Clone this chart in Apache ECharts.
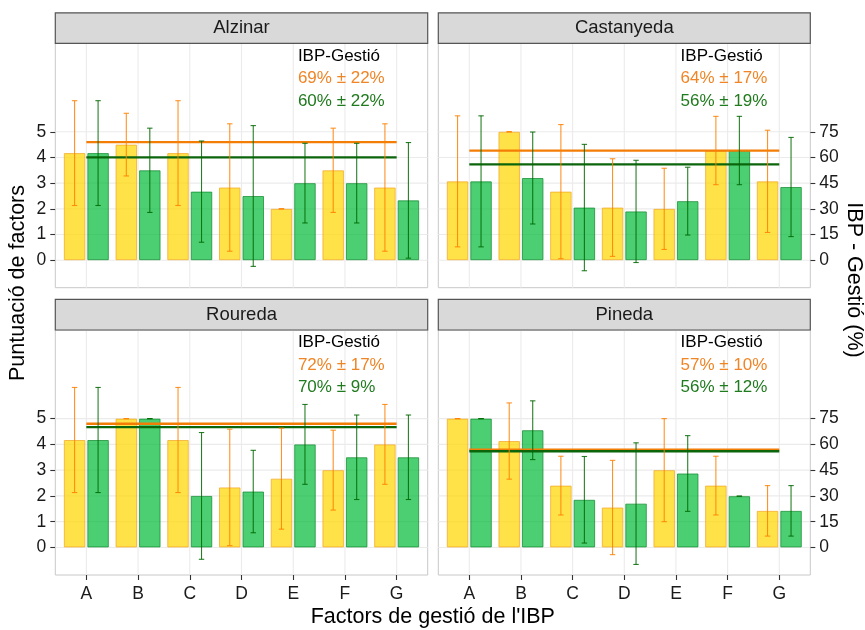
<!DOCTYPE html>
<html>
<head>
<meta charset="utf-8">
<script src="https://cdn.jsdelivr.net/npm/echarts@6/dist/echarts.min.js"></script>
<style>html,body{margin:0;padding:0;background:#fff}#c{width:865px;height:630px}</style>
</head>
<body>
<div id="c"></div>
<script>
// ---------- DATA ----------
const categories = ['A', 'B', 'C', 'D', 'E', 'F', 'G'];
const sites = ['Alzinar', 'Castanyeda', 'Roureda', 'Pineda'];

// IBP score (yellow) and Gestió score (green), mean and sd per factor
const alzinarIBP     = [4.17, 4.5, 4.17, 2.83, 2.0, 3.5, 2.83];
const alzinarIBPsd   = [2.04, 1.22, 2.04, 2.48, 0, 1.64, 2.48];
const alzinarGest    = [4.17, 3.5, 2.67, 2.5, 3.0, 3.0, 2.33];
const alzinarGestSd  = [2.04, 1.64, 1.97, 2.74, 1.55, 1.55, 2.25];

const castIBP        = [3.07, 5.0, 2.67, 2.05, 2.0, 4.27, 3.07];
const castIBPsd      = [2.55, 0, 2.61, 1.9, 1.58, 1.33, 1.99];
const castGest       = [3.07, 3.2, 2.05, 1.9, 2.3, 4.27, 2.85];
const castGestSd     = [2.55, 1.79, 2.46, 1.99, 1.32, 1.33, 1.93];

const rouIBP         = [4.17, 5.0, 4.17, 2.33, 2.67, 3.0, 4.0];
const rouIBPsd       = [2.04, 0, 2.04, 2.26, 1.96, 1.55, 1.55];
const rouGest        = [4.17, 5.0, 2.0, 2.17, 4.0, 3.5, 3.5];
const rouGestSd      = [2.04, 0, 2.46, 1.6, 1.55, 1.64, 1.64];

const pinIBP         = [5.0, 4.13, 2.4, 1.55, 3.0, 2.4, 1.42];
const pinIBPsd       = [0, 1.48, 1.14, 1.83, 2.0, 1.14, 0.98];
const pinGest        = [5.0, 4.55, 1.85, 1.7, 2.87, 1.99, 1.42];
const pinGestSd      = [0, 1.14, 1.68, 2.36, 1.47, 0, 0.98];

// overall IBP-Gestió percentages
const ibpPct   = [69, 64, 72, 57];
const ibpPctSd = [22, 17, 17, 10];
const gestPct  = [60, 56, 70, 56];
const gestPctSd= [22, 19, 9, 12];

const leftTicks  = [0, 1, 2, 3, 4, 5];   // left axis (score)
const pctFactor  = 15;                   // right axis = score * 15 (%)

// ---------- BUILD ----------
const ibpMeans = [alzinarIBP, castIBP, rouIBP, pinIBP];
const ibpSds   = [alzinarIBPsd, castIBPsd, rouIBPsd, pinIBPsd];
const gesMeans = [alzinarGest, castGest, rouGest, pinGest];
const gesSds   = [alzinarGestSd, castGestSd, rouGestSd, pinGestSd];

const FONT = 'Liberation Sans, Arial, sans-serif';
const panels = [
  {left: 55.3, top: 43.4, width: 372.4, height: 244.3},
  {left: 438.3, top: 43.4, width: 372.0, height: 244.3},
  {left: 55.3, top: 330.0, width: 372.4, height: 245.0},
  {left: 438.3, top: 330.0, width: 372.0, height: 245.0}
];
const BAR_W = 21.5, BAR_GAP_PX = 2;
const OFF = (BAR_W + BAR_GAP_PX) / 2;

const yellowFill = 'rgba(255,215,0,0.72)';
const yellowBorder = 'rgba(243,168,40,0.75)';
const greenFill = 'rgba(0,186,56,0.70)';
const greenBorder = 'rgba(20,140,50,0.75)';
const orangeErr = 'rgba(255,128,0,0.85)';
const greenErr = 'rgba(0,105,0,0.85)';
const orangeLine = '#F47D06';
const greenLine = '#0B650B';
const orangeText = '#EF8526';
const greenText = '#207A1E';

const grids = [], xAxes = [], yAxes = [], series = [];

function errRender(offset, color) {
  return function (params, api) {
    const x = api.value(0), m = api.value(1), s = api.value(2);
    const t = api.coord([x, m + s]);
    const b = api.coord([x, m - s]);
    const cx = t[0] + offset;
    const st = {stroke: color, lineWidth: 1.1};
    return {type: 'group', children: [
      {type: 'line', shape: {x1: cx, y1: t[1], x2: cx, y2: b[1]}, style: st},
      {type: 'line', shape: {x1: cx - 2.7, y1: t[1], x2: cx + 2.7, y2: t[1]}, style: st},
      {type: 'line', shape: {x1: cx - 2.7, y1: b[1], x2: cx + 2.7, y2: b[1]}, style: st}
    ]};
  };
}

panels.forEach((p, i) => {
  const isBottom = i >= 2, isRight = i % 2 === 1;
  grids.push(Object.assign({show: true, backgroundColor: '#fff', borderColor: '#C8C8C8', borderWidth: 1, containLabel: false}, p));
  xAxes.push({
    type: 'value', gridIndex: i, min: 0.4, max: 7.6, position: 'bottom',
    axisLine: {show: false, onZero: false}, splitLine: {show: false},
    axisTick: {show: isBottom, customValues: [1, 2, 3, 4, 5, 6, 7], length: 5, lineStyle: {color: '#333', width: 1.1}},
    axisLabel: {show: isBottom, customValues: [1, 2, 3, 4, 5, 6, 7], margin: 10,
      formatter: v => categories[Math.round(v) - 1] || '', color: '#1a1a1a', fontSize: 17.5, fontFamily: FONT}
  });
  yAxes.push({
    type: 'value', gridIndex: i, min: -1.07, max: 8.44, position: isRight ? 'right' : 'left',
    axisLine: {show: false, onZero: false}, splitLine: {show: false},
    axisTick: {show: true, customValues: leftTicks, length: 5, lineStyle: {color: '#333', width: 1.1}},
    axisLabel: {show: true, customValues: leftTicks, margin: 9,
      formatter: v => isRight ? String(Math.round(v * pctFactor)) : String(v),
      color: '#1a1a1a', fontSize: 17.5, fontFamily: FONT}
  });

  // grid lines
  series.push({
    type: 'custom', xAxisIndex: i, yAxisIndex: i, z: 1, silent: true,
    data: [[0]],
    renderItem: function (params, api) {
      const cs = params.coordSys;
      const ch = [];
      categories.forEach((c, k) => {
        const px = api.coord([k + 1, 0])[0];
        ch.push({type: 'line', shape: {x1: px, y1: cs.y, x2: px, y2: cs.y + cs.height}, style: {stroke: '#EBEBEB', lineWidth: 1.1}});
      });
      leftTicks.forEach(v => {
        const py = api.coord([1, v])[1];
        ch.push({type: 'line', shape: {x1: cs.x, y1: py, x2: cs.x + cs.width, y2: py}, style: {stroke: '#EBEBEB', lineWidth: 1.1}});
      });
      return {type: 'group', children: ch};
    }
  });

  // bars
  series.push({
    type: 'bar', name: 'IBP', xAxisIndex: i, yAxisIndex: i, z: 2,
    barWidth: BAR_W, barGap: (BAR_GAP_PX / BAR_W * 100) + '%',
    data: ibpMeans[i].map((v, k) => [k + 1, v]),
    itemStyle: {color: yellowFill, borderColor: yellowBorder, borderWidth: 1}
  });
  series.push({
    type: 'bar', name: 'Gestió', xAxisIndex: i, yAxisIndex: i, z: 2,
    barWidth: BAR_W, barGap: (BAR_GAP_PX / BAR_W * 100) + '%',
    data: gesMeans[i].map((v, k) => [k + 1, v]),
    itemStyle: {color: greenFill, borderColor: greenBorder, borderWidth: 1}
  });

  // mean lines
  series.push({
    type: 'line', xAxisIndex: i, yAxisIndex: i, z: 3, silent: true, symbol: 'none',
    data: [[1, ibpPct[i] / pctFactor], [7, ibpPct[i] / pctFactor]],
    lineStyle: {color: orangeLine, width: 2.3}
  });
  series.push({
    type: 'line', xAxisIndex: i, yAxisIndex: i, z: 3, silent: true, symbol: 'none',
    data: [[1, gestPct[i] / pctFactor], [7, gestPct[i] / pctFactor]],
    lineStyle: {color: greenLine, width: 2.3}
  });

  // error bars
  series.push({
    type: 'custom', xAxisIndex: i, yAxisIndex: i, z: 4, silent: true,
    data: ibpMeans[i].map((v, k) => [k + 1, v, ibpSds[i][k]]),
    renderItem: errRender(-OFF, orangeErr)
  });
  series.push({
    type: 'custom', xAxisIndex: i, yAxisIndex: i, z: 4, silent: true,
    data: gesMeans[i].map((v, k) => [k + 1, v, gesSds[i][k]]),
    renderItem: errRender(OFF, greenErr)
  });

  // annotation text
  const texts = ['IBP-Gestió', ibpPct[i] + '% ± ' + ibpPctSd[i] + '%', gestPct[i] + '% ± ' + gestPctSd[i] + '%'];
  const tcolors = ['#000', orangeText, greenText];
  series.push({
    type: 'custom', xAxisIndex: i, yAxisIndex: i, z: 5, silent: true,
    data: [[5.09, 7.95, 0], [5.09, 7.08, 1], [5.09, 6.2, 2]],
    renderItem: function (params, api) {
      const pt = api.coord([api.value(0), api.value(1)]);
      const k = api.value(2);
      return {type: 'text', x: pt[0], y: pt[1], style: {text: texts[k], fill: tcolors[k], font: '17px ' + FONT, textAlign: 'left', textVerticalAlign: 'middle'}};
    }
  });
});

// strips and titles
const graphic = [];
panels.forEach((p, i) => {
  const sh = 30.6;
  graphic.push({type: 'rect', shape: {x: p.left, y: p.top - sh, width: p.width, height: sh},
    style: {fill: '#D9D9D9', stroke: '#555', lineWidth: 1.2}, z: 10});
  graphic.push({type: 'text', x: p.left + p.width / 2, y: p.top - sh / 2,
    style: {text: sites[i], fill: '#1a1a1a', font: '18.5px ' + FONT, textAlign: 'center', textVerticalAlign: 'middle'}, z: 11});
});
graphic.push({type: 'text', x: 432.8, y: 617, style: {text: "Factors de gestió de l'IBP", fill: '#000', font: '21.5px ' + FONT, textAlign: 'center', textVerticalAlign: 'middle'}});
graphic.push({type: 'text', x: 18, y: 283, rotation: Math.PI / 2, style: {text: 'Puntuació de factors', fill: '#000', font: '21.5px ' + FONT, textAlign: 'center', textVerticalAlign: 'middle'}});
graphic.push({type: 'text', x: 854, y: 280, rotation: -Math.PI / 2, style: {text: 'IBP - Gestió (%)', fill: '#000', font: '21.5px ' + FONT, textAlign: 'center', textVerticalAlign: 'middle'}});

const chart = echarts.init(document.getElementById('c'), null, {renderer: 'canvas'});
chart.setOption({
  animation: false,
  backgroundColor: '#fff',
  grid: grids, xAxis: xAxes, yAxis: yAxes, series: series, graphic: graphic
});
</script>
</body>
</html>
